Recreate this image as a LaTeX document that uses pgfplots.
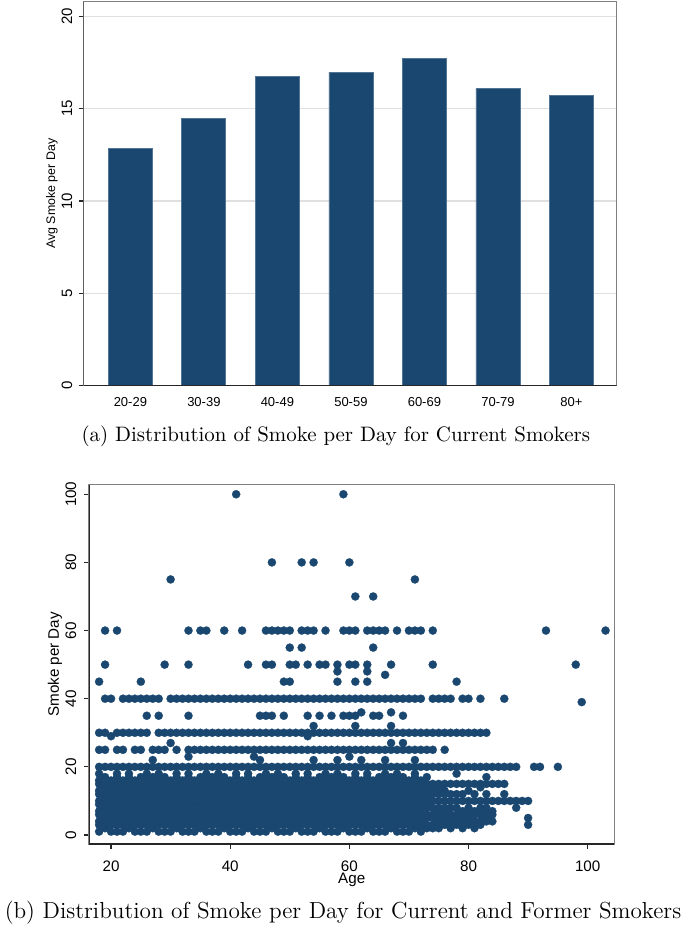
\documentclass[border=0pt]{standalone}
\usepackage{pgfplots}
\pgfplotsset{compat=1.18}
\usepackage{pgfplotstable}
\usepackage{fontspec}
\newfontfamily\arial{Liberation Sans}
\definecolor{sblue}{RGB}{26,71,111}

\pgfplotstableread{
a  v1 v2 v3 v4 v5 v6 v7 v8 v9 v10 v11 v12 b20 b25 b30 b40
18 1 3 4 6 7 9 10 12 13 15 16 18 20 25 30 nan
19 2 3 5 6 8 9 11 12 14 15 17 nan 20 25 30 40
20 1 3 4 6 7 9 10 12 13 15 16 nan 20 nan 29 40
21 1 3 5 6 8 9 11 12 14 15 17 18 20 25 30 nan
22 1 3 4 6 7 9 10 12 13 15 16 nan 20 25 30 40
23 2 3 5 6 8 9 11 12 14 15 17 18 20 nan 30 40
24 1 3 4 6 7 9 10 12 13 15 16 nan 20 25 30 40
25 1 3 5 6 8 9 11 12 14 15 17 nan 20 25 30 40
26 1 3 4 6 7 9 10 12 13 15 16 18 20 nan 30 40
27 2 3 5 6 8 9 11 12 14 15 17 nan 20 25 nan 40
28 1 3 4 6 7 9 10 12 13 15 16 18 20 25 30 40
29 1 3 5 6 8 9 11 12 14 15 17 nan 20 25 30 nan
30 1 3 4 6 7 9 10 12 13 15 16 nan 20 nan 30 40
31 2 3 5 6 8 9 11 12 14 15 17 18 20 25 30 40
32 1 3 4 6 7 9 10 12 13 15 16 nan 20 nan 30 40
33 1 3 5 6 8 9 11 12 14 15 17 18 20 25 30 40
34 1 3 4 6 7 9 10 12 13 15 16 nan 20 25 30 40
35 2 3 5 6 8 9 11 12 14 15 17 nan 20 25 30 40
36 1 3 4 6 7 9 10 12 13 15 16 18 20 25 30 40
37 1 3 5 6 8 9 11 12 14 15 17 nan 20 25 30 40
38 1 3 4 6 7 9 10 12 13 15 16 18 20 25 30 40
39 2 3 5 6 8 9 11 12 14 15 17 nan 20 25 30 40
40 1 3 4 6 7 9 10 12 13 15 16 nan 20 25 30 40
41 1 3 5 6 8 9 11 12 14 15 17 18 20 25 30 40
42 1 3 4 6 7 9 10 12 13 15 16 nan 20 25 30 40
43 2 3 5 6 8 9 11 12 14 15 17 18 20 25 30 40
44 1 3 4 6 7 9 10 12 13 15 16 nan 20 25 30 40
45 1 3 5 6 8 9 11 12 14 15 17 nan 20 25 30 40
46 1 3 4 6 7 9 10 12 13 15 16 18 20 25 30 40
47 2 3 5 6 8 9 11 12 14 15 17 nan 20 25 30 40
48 1 3 4 6 7 9 10 12 13 15 16 18 20 25 30 40
49 1 3 5 6 8 9 11 12 14 15 17 nan 20 25 30 40
50 1 3 4 6 7 9 10 12 13 15 16 nan 20 25 30 40
51 2 3 5 6 8 9 11 12 14 15 17 18 20 25 30 40
52 1 3 4 6 7 9 10 12 13 15 16 nan 20 25 30 40
53 1 3 5 6 8 9 11 12 14 15 17 18 20 25 30 40
54 1 3 4 6 7 9 10 12 13 15 16 nan 20 25 30 40
55 2 3 5 6 8 9 11 12 14 15 17 nan 20 25 30 40
56 1 3 4 6 7 9 10 12 13 15 16 18 20 25 30 40
57 1 3 5 6 8 9 11 12 14 15 17 nan 20 25 30 40
58 1 3 4 6 7 9 10 12 13 15 16 18 20 25 30 40
59 2 3 5 6 8 9 11 12 14 15 17 nan 20 25 30 40
60 1 3 4 6 7 9 10 12 13 15 16 nan 20 25 30 40
61 1 3 5 6 8 9 11 12 14 15 17 18 20 25 30 40
62 1 3 4 6 7 9 10 12 13 15 16 nan 20 25 30 40
63 2 3 5 6 8 9 11 12 14 15 17 18 20 25 30 40
64 1 3 4 6 7 9 10 12 13 15 16 nan 20 25 30 40
65 1 3 5 6 8 9 11 12 14 15 17 nan 20 25 30 40
66 1 3 4 6 7 9 10 12 13 15 16 18 20 25 30 40
67 2 3 5 6 8 9 11 12 14 15 17 nan 20 25 30 40
68 1 3 4 6 7 9 10 12 13 15 16 18 20 25 30 40
69 1 3 5 6 8 9 11 12 14 15 17 nan 20 25 30 40
70 1 3 4 6 7 9 10 12 13 15 16 nan 20 25 30 40
71 2 3 5 6 8 9 11 12 14 15 17 18 20 25 30 40
72 1 3 4 6 7 9 10 12 13 15 16 nan 20 25 30 40
73 2 3 5 6 8 9 11 12 14 15 17 nan 20 25 30 nan
74 2 3 5 6 8 10 12 13 15 nan nan nan 20 25 30 40
75 2 4 5 7 8 10 12 14 15 nan nan nan 20 nan 30 40
76 3 4 6 7 8 10 12 13 15 nan nan nan 20 25 30 40
77 2 3 5 6 8 10 12 15 nan nan nan nan 20 nan 30 40
78 3 4 6 8 10 12 15 18 nan nan nan nan 20 nan 30 nan
79 2 4 5 7 10 12 15 nan nan nan nan nan 20 nan 30 40
80 3 5 6 8 10 13 15 nan nan nan nan nan 20 nan 30 40
81 2 4 6 7 10 12 15 nan nan nan nan nan 20 nan 30 nan
82 3 4 6 8 10 14 15 nan nan nan nan nan 20 nan 30 40
83 4 5 7 8 10 12 15 17 nan nan nan nan 20 nan 30 nan
84 4 6 7 10 15 nan nan nan nan nan nan nan 20 nan nan nan
85 10 15 nan nan nan nan nan nan nan nan nan nan 20 nan nan nan
86 10 12 15 nan nan nan nan nan nan nan nan nan 20 nan nan 40
87 10 nan nan nan nan nan nan nan nan nan nan nan 20 nan nan nan
88 8 10 nan nan nan nan nan nan nan nan nan nan 20 nan nan nan
89 10 nan nan nan nan nan nan nan nan nan nan nan nan nan nan nan
90 3 5 10 nan nan nan nan nan nan nan nan nan nan nan nan nan
91 nan nan nan nan nan nan nan nan nan nan nan nan 20 nan nan nan
92 nan nan nan nan nan nan nan nan nan nan nan nan 20 nan nan nan
95 nan nan nan nan nan nan nan nan nan nan nan nan 20 nan nan nan
}\smoke

\begin{document}
\begin{tikzpicture}[dot/.style={only marks, mark=*, mark size=2.05pt, color=sblue,
     mark options={draw=sblue, fill=sblue, line width=0.1pt}}]
\path[use as bounding box] (0,0) rectangle (342.5pt,-463.5pt);

% ---------------- (a) bar chart ----------------
\begin{axis}[
  at={(41.85pt,-192.85pt)}, anchor=south west,
  scale only axis, width=266.5pt, height=192pt,
  xmin=-0.635, xmax=6.616, ymin=0, ymax=20.79,
  ybar, bar width=22pt,
  xtick={0,1,2,3,4,5,6},
  xticklabels={20-29,30-39,40-49,50-59,60-69,70-79,80+},
  xtick style={draw=none},
  x tick label style={font=\arial\fontsize{6.5}{7}\selectfont, anchor=north, inner sep=0pt, yshift=-3pt},
  ytick={0,5,10,15,20},
  ytick pos=left, tick align=outside, major tick length=2.5pt,
  ytick style={black!85, line width=0.6pt},
  y tick label style={font=\arial\fontsize{7.5}{8}\selectfont, rotate=90, anchor=south, inner sep=0pt, yshift=3pt},
  /pgf/number format/assume math mode=true,
  ymajorgrids, grid style={black!12, line width=0.6pt},
  axis line style={black!50, line width=0.6pt},
  ylabel={Avg Smoke per Day},
  ylabel style={font=\arial\fontsize{6.2}{7}\selectfont, at={(axis description cs:-0.0596,0.5)}, anchor=center},
]
\addplot[fill=sblue, draw=sblue!75!white, line width=0.4pt] coordinates {
(0,12.83) (1,14.46) (2,16.72) (3,16.97) (4,17.74) (5,16.10) (6,15.70)};
\draw[black!85, line width=0.7pt] (rel axis cs:0,1) -- (rel axis cs:0,0) -- (rel axis cs:1,0);
\end{axis}

\node[font=\fontsize{10.45}{12}\selectfont] at (167.9pt,-218pt) {(a) Distribution of Smoke per Day for Current Smokers};

% ---------------- (b) scatter ----------------
\begin{axis}[
  at={(44.5pt,-422pt)}, anchor=south west,
  scale only axis, width=262.75pt, height=179.65pt,
  xmin=16.3, xmax=104.5, ymin=-2.64, ymax=102.8,
  xtick={20,40,60,80,100}, ytick={0,20,40,60,80,100},
  xtick pos=left, ytick pos=left, tick align=outside, major tick length=2.5pt,
  tick style={black!85, line width=0.6pt},
  x tick label style={font=\arial\fontsize{7.6}{8}\selectfont, anchor=north, inner sep=0pt, yshift=-5.5pt},
  y tick label style={font=\arial\fontsize{7.6}{8}\selectfont, rotate=90, anchor=south, inner sep=0pt, yshift=3.7pt},
  /pgf/number format/assume math mode=true,
  axis line style={black!50, line width=0.6pt},
  xlabel={Age}, ylabel={Smoke per Day},
  xlabel style={font=\arial\fontsize{7.6}{8}\selectfont, at={(axis description cs:0.5,-0.1)}, anchor=center},
  ylabel style={font=\arial\fontsize{7.6}{8}\selectfont, at={(axis description cs:-0.0647,0.5)}, anchor=center},
]
\pgfplotsinvokeforeach{v1,v2,v3,v4,v5,v6,v7,v8,v9,v10,v11,v12,b20,b25,b30,b40}{
  \addplot[dot] table[x=a, y=#1] {\smoke};
}
\addplot[dot] coordinates {
(41,100)(59,100)
(47,80)(52,80)(54,80)(60,80)
(30,75)(71,75)
(61,70)(64,70)
(19,60)(21,60)(33,60)(35,60)(36,60)(39,60)(42,60)(46,60)(47,60)(48,60)(49,60)(50,60)
(52,60)(53,60)(54,60)(56,60)(59,60)(60,60)(61,60)(63,60)(64,60)(65,60)(66,60)(68,60)
(70,60)(71,60)(72,60)(74,60)(93,60)(103,60)
(50,55)(52,55)(64,55)
(19,50)(29,50)(33,50)(43,50)(46,50)(47,50)(50,50)(51,50)(53,50)(55,50)(56,50)(58,50)
(60,50)(61,50)(63,50)(67,50)(74,50)(98,50)
(58,48)(63,48)(66,47)
(18,45)(25,45)(49,45)(50,45)(58,45)(61,45)(63,45)(78,45)
(99,39)
(62,36)(67,36)
(26,35)(28,35)(33,35)(45,35)(46,35)(47,35)(49,35)(53,35)(55,35)(57,35)(59,35)(60,35)
(61,35)(64,35)(65,35)(69,35)
(54,32)(61,32)(67,32)
(53,29)
(30,27)(67,27)(69,27)
(27,22)(33,23)(44,23)(45,22)(54,22)(58,22)(60,23)(62,22)(66,22)(71,22)
};
\draw[black!85, line width=0.7pt] (rel axis cs:0,1) -- (rel axis cs:0,0) -- (rel axis cs:1,0);
\end{axis}

\node[font=\fontsize{11.6}{13}\selectfont] at (171.5pt,-456.5pt) {(b) Distribution of Smoke per Day for Current and Former Smokers};
\end{tikzpicture}
\end{document}
